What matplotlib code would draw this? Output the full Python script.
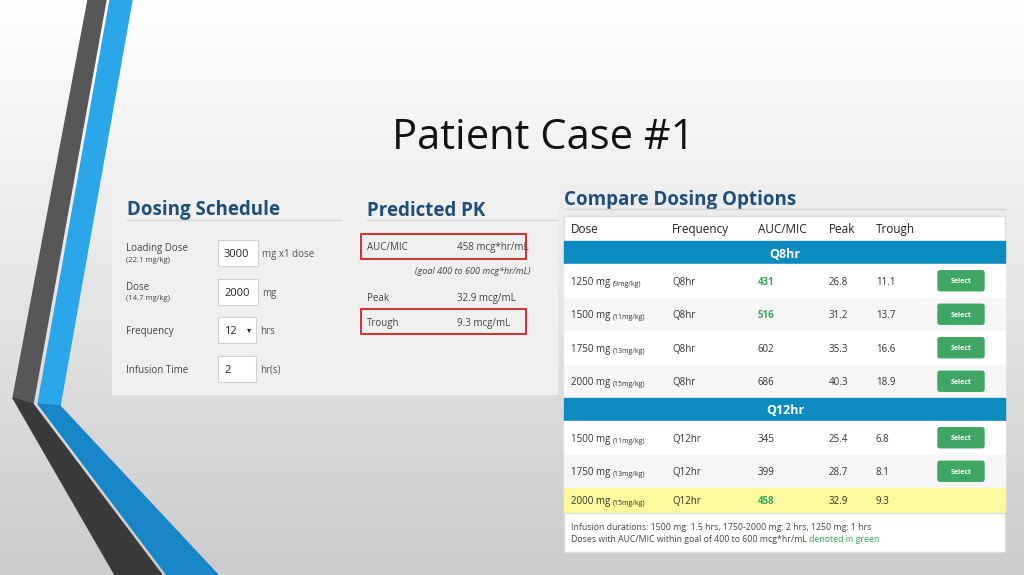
import matplotlib
matplotlib.use("Agg")
import matplotlib.pyplot as plt
import numpy as np
from matplotlib.patches import Polygon, Rectangle, FancyBboxPatch

plt.rcParams['font.family'] = ['Open Sans', 'DejaVu Sans']

# ---- data ----
sched_labels = ["Loading Dose", "Dose", "Frequency", "Infusion Time"]
sched_sub = ["(22.1 mg/kg)", "(14.7 mg/kg)", "", ""]
sched_vals = ["3000", "2000", "12", "2"]
sched_units = ["mg x1 dose", "mg", "hrs", "hr(s)"]

pk_labels = ["AUC/MIC", "Peak", "Trough"]
pk_vals = ["458 mcg*hr/mL", "32.9 mcg/mL", "9.3 mcg/mL"]

col_headers = ["Dose", "Frequency", "AUC/MIC", "Peak", "Trough"]
q8_dose = ["1250 mg", "1500 mg", "1750 mg", "2000 mg"]
q8_mgkg = ["(9mg/kg)", "(11mg/kg)", "(13mg/kg)", "(15mg/kg)"]
q8_auc = [431, 516, 602, 686]
q8_peak = [26.8, 31.2, 35.3, 40.3]
q8_trough = [11.1, 13.7, 16.6, 18.9]
q12_dose = ["1500 mg", "1750 mg", "2000 mg"]
q12_mgkg = ["(11mg/kg)", "(13mg/kg)", "(15mg/kg)"]
q12_auc = [345, 399, 458]
q12_peak = [25.4, 28.7, 32.9]
q12_trough = [6.8, 8.1, 9.3]

W, H = 1024, 575
fig = plt.figure(figsize=(W/100, H/100), dpi=100)
ax = fig.add_axes([0, 0, 1, 1])
ax.set_xlim(0, W); ax.set_ylim(H, 0); ax.axis('off')

VA = 'center_baseline'

# background gradient
g = np.linspace(1.0, 0.80, 256)[:, None]
ax.imshow(np.dstack([g, g, g]), extent=[0, W, H, 0], aspect='auto', zorder=0)

# decorative bands
ax.add_patch(Polygon([(88,0),(106,0),(33,404),(13,398)], color='#575757', zorder=1))
ax.add_patch(Polygon([(13,398),(33,404),(162,575),(115,575)], color='#3a3a3a', zorder=1))
ax.add_patch(Polygon([(110,0),(132,0),(60,406),(38,404)], color='#2ba6e8', zorder=1))
ax.add_patch(Polygon([(38,404),(60,406),(218,575),(167,575)], color='#1786c6', zorder=1))

ax.text(543, 133, "Patient Case #1", fontsize=30, ha='center', va=VA, color='#111111', zorder=3)

# left panel
ax.add_patch(Rectangle((112,188), 445, 206, color='#efefef', zorder=2))
hc = '#1f4e79'
ax.text(127, 208, "Dosing Schedule", fontsize=13.5, fontweight='bold', color=hc, va=VA, zorder=3)
ax.plot([127,340],[220,220], color='#d6d6d6', lw=1, zorder=3)
ax.text(367, 208, "Predicted PK", fontsize=13.5, fontweight='bold', color=hc, va=VA, zorder=3)
ax.plot([367,557],[220,220], color='#d6d6d6', lw=1, zorder=3)

row_y = [253, 292, 330, 369]
box_w = [40, 40, 38, 38]
for i, y in enumerate(row_y):
    if sched_sub[i]:
        ax.text(126, y-6, sched_labels[i], fontsize=7, color='#444', va=VA, zorder=3)
        ax.text(126, y+6, sched_sub[i], fontsize=5.5, color='#444', va=VA, zorder=3)
    else:
        ax.text(126, y, sched_labels[i], fontsize=7, color='#444', va=VA, zorder=3)
    ax.add_patch(Rectangle((218, y-13), box_w[i], 26, facecolor='white', edgecolor='#d0d0d0', lw=0.8, zorder=3))
    ax.text(224, y, sched_vals[i], fontsize=8, color='#222', va=VA, zorder=4)
    ax.text(218+box_w[i]+4, y, sched_units[i], fontsize=7, color='#555', va=VA, zorder=4)
ax.text(249, 330, "▾", fontsize=6, color='#222', va=VA, ha='center', zorder=4)

pk_y = [246, 297, 322]
for lab, val, y in zip(pk_labels, pk_vals, pk_y):
    ax.text(367, y, lab, fontsize=7, color='#444', va=VA, zorder=3)
    ax.text(457, y, val, fontsize=7, color='#444', va=VA, zorder=3)
for y in (246, 321):
    ax.add_patch(Rectangle((361, y-12.5), 165, 25, fill=False, edgecolor='#d42020', lw=1.3, zorder=4))
ax.text(415, 271, "(goal 400 to 600 mcg*hr/mL)", fontsize=6.5, style='italic', color='#444', va=VA, zorder=3)

# right panel
ax.text(564, 198, "Compare Dosing Options", fontsize=13.5, fontweight='bold', color=hc, va=VA, zorder=3)
ax.plot([564,1005],[209,209], color='#d6d6d6', lw=1, zorder=3)
ax.add_patch(Rectangle((564,216), 441, 336, facecolor='white', edgecolor='#dddddd', lw=1, zorder=2))
col_x = [571, 672, 758, 829, 876]
for x, h in zip(col_x, col_headers):
    ax.text(x, 228, h, fontsize=8.5, color='#222', va=VA, zorder=3)

band_c = '#0b8bc0'
green = '#3aa65a'
btn_c = '#3fa663'

def band(y0, label):
    ax.add_patch(Rectangle((564, y0), 441, 23, color=band_c, zorder=3))
    ax.text(785, y0+11.5, label, fontsize=9, fontweight='bold', color='white', ha='center', va=VA, zorder=4)

def rows(y0, doses, mgkg, freq, auc, peak, trough, heights, hl_last=False):
    y = y0
    for i in range(len(doses)):
        h = heights[i]
        fc = '#ffffff' if i % 2 == 0 else '#f6f6f6'
        last = hl_last and i == len(doses)-1
        if last:
            fc = '#fbf99c'
        ax.add_patch(Rectangle((564, y), 441, h, color=fc, zorder=3))
        cy = y + h/2
        t = ax.text(col_x[0], cy, doses[i] + " ", fontsize=7, color='#333', va=VA, zorder=4)
        ax.annotate(mgkg[i], xycoords=t, xy=(1, 0), va='bottom', fontsize=5, color='#333', zorder=4)
        ax.text(col_x[1], cy, freq, fontsize=7, color='#333', va=VA, zorder=4)
        ok = 400 <= auc[i] <= 600
        ax.text(col_x[2], cy, str(auc[i]), fontsize=7, color=green if ok else '#333',
                fontweight='bold' if ok else 'normal', va=VA, zorder=4)
        ax.text(col_x[3], cy, f"{peak[i]:.1f}", fontsize=7, color='#333', va=VA, zorder=4)
        ax.text(col_x[4], cy, f"{trough[i]:.1f}", fontsize=7, color='#333', va=VA, zorder=4)
        if not last:
            ax.add_patch(FancyBboxPatch((938, cy-10), 46, 20, boxstyle="round,pad=0,rounding_size=2",
                                        color=btn_c, zorder=4))
            ax.text(961, cy, "Select", fontsize=5, fontweight='bold', color='white', ha='center', va=VA, zorder=5)
        y += h
    return y

band(241, "Q8hr")
rows(264, q8_dose, q8_mgkg, "Q8hr", q8_auc, q8_peak, q8_trough, [33.5]*4)
band(398, "Q12hr")
rows(421, q12_dose, q12_mgkg, "Q12hr", q12_auc, q12_peak, q12_trough, [33.5, 33.5, 24], hl_last=True)
ax.plot([564,1005],[513,513], color='#dddddd', lw=1, zorder=4)

ax.text(571, 526, "Infusion durations: 1500 mg: 1.5 hrs, 1750-2000 mg: 2 hrs, 1250 mg: 1 hrs",
        fontsize=6.3, color='#444', va=VA, zorder=4)
t = ax.text(571, 538, "Doses with AUC/MIC within goal of 400 to 600 mcg*hr/mL ", fontsize=6.3, color='#444', va=VA, zorder=4)
ax.annotate("denoted in green", xycoords=t, xy=(1, 0), va='bottom', fontsize=6.3, color=green, zorder=4)

fig.savefig("out.png", dpi=100)
